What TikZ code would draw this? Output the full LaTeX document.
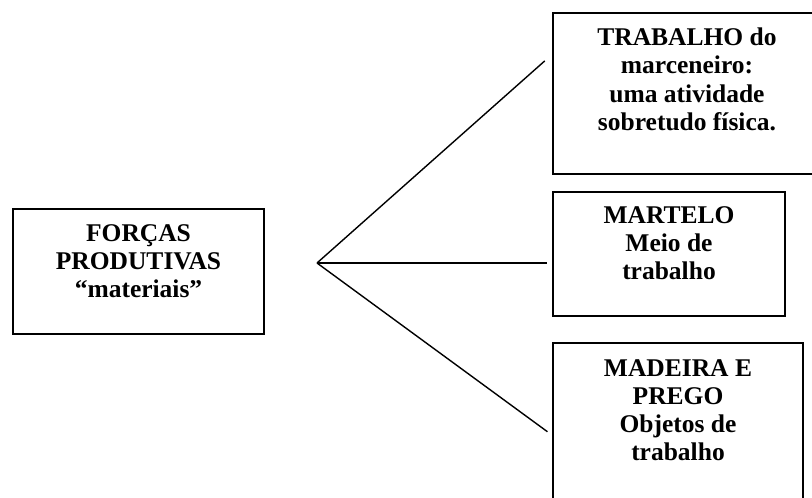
\documentclass[tikz,border=0pt]{standalone}
\usepackage{fontspec}
\setmainfont{Liberation Serif}
\usetikzlibrary{positioning}

\tikzset{
  caixa/.style={draw,line width=1.5pt,inner sep=0pt},
  texto/.style={align=center,inner sep=0pt,font=\fontsize{25.5}{28.2}\selectfont\bfseries},
  ramo/.style={line width=1.4pt},
}

\begin{document}
\begin{tikzpicture}[x=1pt,y=-1pt]
    \useasboundingbox (0,0) rectangle (812,498);

    % Caixas.
    \node[caixa,minimum width=251pt,minimum height=125pt] (forcas) at (138.5,271.5) {};
    \node[caixa,minimum width=268pt,minimum height=161pt] (trabalho) at (687,93.5) {};
    \node[caixa,minimum width=232pt,minimum height=124pt] (martelo) at (669,254) {};
    \node[caixa,minimum width=250pt,minimum height=165pt] (madeira) at (678,425.5) {};

    % Textos.
    \node[texto,below=16pt of forcas.north] (forcastxt) {FORÇAS\\PRODUTIVAS\\“materiais”};
    \node[texto,below=15.5pt of trabalho.north] (trabalhotxt) {TRABALHO do\\marceneiro:\\uma atividade\\sobretudo física.};
    \node[texto,below=15pt of martelo.north] (martelotxt) {MARTELO\\Meio de\\trabalho};
    \node[texto,below=17pt of madeira.north] (madeiratxt) {MADEIRA E\\PREGO\\Objetos de\\trabalho};

    % Ramos.
    \coordinate (fan) at (317,263);
    \draw[ramo,shorten >=10pt] (fan) -- ([yshift=-42pt]trabalho.north west);
    \draw[ramo,shorten >=5pt] (fan) -- (fan -| martelo.west);
    \draw[ramo,shorten >=6pt] (fan) -- ([yshift=-93pt]madeira.north west);
\end{tikzpicture}
\end{document}
